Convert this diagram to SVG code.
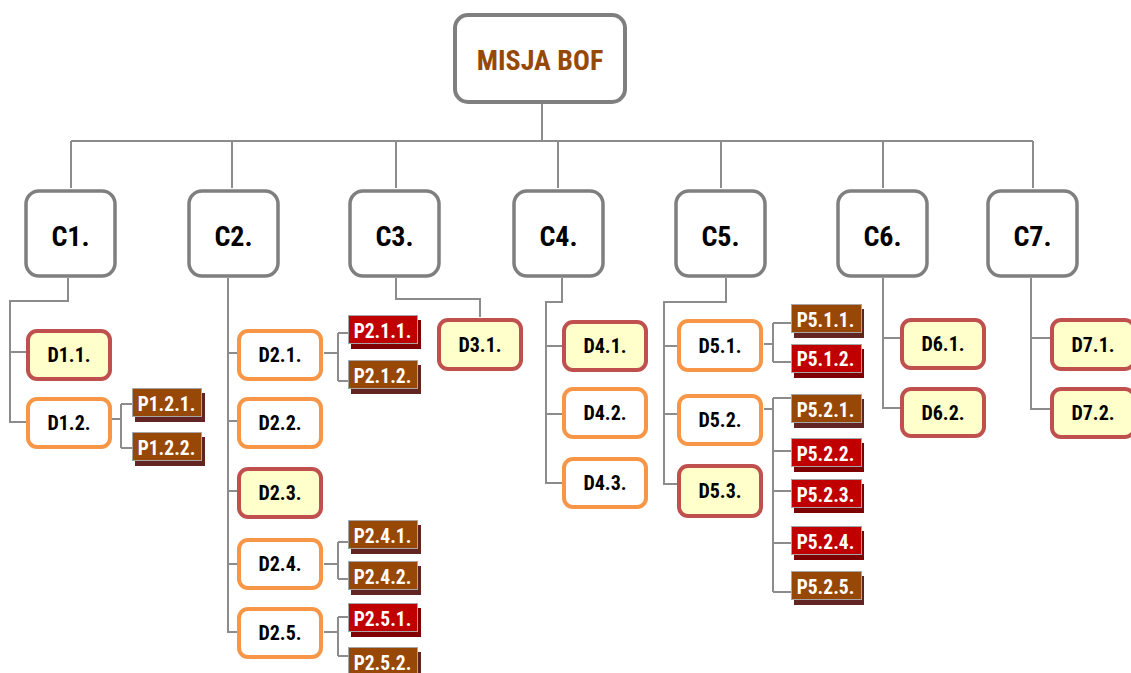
<svg xmlns="http://www.w3.org/2000/svg" width="1131" height="673" viewBox="0 0 1131 673">
<style>
text{font-family:"Roboto Condensed",Roboto,"Liberation Sans",sans-serif;font-weight:700;text-anchor:middle}
.root{fill:#fff;stroke:#7F7F7F;stroke-width:4}
.rt{fill:#974806;font-size:28px}
.c{fill:#fff;stroke:#7F7F7F;stroke-width:3.5}
.ct{fill:#000;font-size:28px}
.dr{fill:#FFFFCC;stroke:#C0504D;stroke-width:4}
.do{fill:#fff;stroke:#F79646;stroke-width:4}
.dt{fill:#000;font-size:20px}
.pb{fill:#974806;stroke:#A6A6A6;stroke-width:1}
.pbs{fill:#632523}
.pr{fill:#C00000;stroke:#A6A6A6;stroke-width:1}
.prs{fill:#7F0000}
.pt{fill:#fff;font-size:19.5px}
.con path{fill:none;stroke:#8C8C8C;stroke-width:2}
</style>
<g id="connectors" class="con">
<path d="M542 104V141M71 141H1033M71 141V188M232 141V188M396 141V188M558 141V188M721 141V188M883 141V188M1033 141V188"/>
<path d="M68 278V301H10V422H27M10 352H27"/>
<path d="M228 278V632H239M228 353H239M228 421H239M228 491H239M228 564H239"/>
<path d="M396 278V299H480V317"/>
<path d="M562 278V302H546V483H563M546 346H563M546 414H563"/>
<path d="M726 278V302H664V484H677M664 346H677M664 414H677"/>
<path d="M883 278V408H900M883 338H900"/>
<path d="M1031 278V409H1050M1031 338H1050"/>
<path d="M112 419H121M121 404V448M121 404H132M121 448H132"/>
<path d="M324 353H338M338 333V381M338 333H348M338 381H348"/>
<path d="M324 564H338M338 542V579M338 542H348M338 579H348"/>
<path d="M324 632H338M338 617V656M338 617H348M338 656H348"/>
<path d="M764 344H773M773 323V362M773 323H791M773 362H791"/>
<path d="M764 409H773M773 398V592M773 398H791M773 451H791M773 491H791M773 543H791M773 592H791"/>
</g>
<g id="root"><rect class="root" x="455" y="15" width="170" height="87" rx="13"/><text class="rt" x="540" y="70">MISJA BOF</text></g>
<g id="C1"><rect class="c" x="26" y="191" width="89" height="85" rx="13"/><text class="ct" x="70.5" y="246">C1.</text></g>
<g id="C2"><rect class="c" x="189" y="191" width="89" height="85" rx="13"/><text class="ct" x="233.5" y="246">C2.</text></g>
<g id="C3"><rect class="c" x="350" y="191" width="89" height="85" rx="13"/><text class="ct" x="394.5" y="246">C3.</text></g>
<g id="C4"><rect class="c" x="514" y="191" width="89" height="85" rx="13"/><text class="ct" x="558.5" y="246">C4.</text></g>
<g id="C5"><rect class="c" x="676" y="191" width="89" height="85" rx="13"/><text class="ct" x="720.5" y="246">C5.</text></g>
<g id="C6"><rect class="c" x="838" y="191" width="89" height="85" rx="13"/><text class="ct" x="882.5" y="246">C6.</text></g>
<g id="C7"><rect class="c" x="988" y="191" width="89" height="85" rx="13"/><text class="ct" x="1032.5" y="246">C7.</text></g>
<g id="D1.1"><rect class="dr" x="28" y="331" width="82" height="48" rx="9"/><text class="dt" x="69" y="362">D1.1.</text></g>
<g id="D1.2"><rect class="do" x="28" y="399" width="82" height="48" rx="9"/><text class="dt" x="69" y="430">D1.2.</text></g>
<g id="D2.1"><rect class="do" x="239" y="331" width="82" height="48" rx="9"/><text class="dt" x="280" y="362">D2.1.</text></g>
<g id="D2.2"><rect class="do" x="239" y="399" width="82" height="48" rx="9"/><text class="dt" x="280" y="430">D2.2.</text></g>
<g id="D2.3"><rect class="dr" x="239" y="469" width="82" height="48" rx="9"/><text class="dt" x="280" y="500">D2.3.</text></g>
<g id="D2.4"><rect class="do" x="239" y="540" width="82" height="48" rx="9"/><text class="dt" x="280" y="571">D2.4.</text></g>
<g id="D2.5"><rect class="do" x="239" y="609" width="82" height="48" rx="9"/><text class="dt" x="280" y="640">D2.5.</text></g>
<g id="D3.1"><rect class="dr" x="439" y="320" width="82" height="49" rx="9"/><text class="dt" x="480" y="352">D3.1.</text></g>
<g id="D4.1"><rect class="dr" x="564" y="322" width="82" height="48" rx="9"/><text class="dt" x="605" y="353">D4.1.</text></g>
<g id="D4.2"><rect class="do" x="564" y="389" width="82" height="48" rx="9"/><text class="dt" x="605" y="420">D4.2.</text></g>
<g id="D4.3"><rect class="do" x="564" y="459" width="82" height="48" rx="9"/><text class="dt" x="605" y="490">D4.3.</text></g>
<g id="D5.1"><rect class="do" x="679" y="321" width="82" height="49" rx="9"/><text class="dt" x="720" y="353">D5.1.</text></g>
<g id="D5.2"><rect class="do" x="679" y="396" width="82" height="48" rx="9"/><text class="dt" x="720" y="427">D5.2.</text></g>
<g id="D5.3"><rect class="dr" x="679" y="466" width="82" height="50" rx="9"/><text class="dt" x="720" y="498">D5.3.</text></g>
<g id="D6.1"><rect class="dr" x="902" y="320" width="82" height="48" rx="9"/><text class="dt" x="943" y="351">D6.1.</text></g>
<g id="D6.2"><rect class="dr" x="902" y="389" width="82" height="47" rx="9"/><text class="dt" x="943" y="420">D6.2.</text></g>
<g id="D7.1"><rect class="dr" x="1052" y="320" width="82" height="49" rx="9"/><text class="dt" x="1093" y="352">D7.1.</text></g>
<g id="D7.2"><rect class="dr" x="1052" y="389" width="82" height="48" rx="9"/><text class="dt" x="1093" y="420">D7.2.</text></g>
<g id="P1.2.1"><rect class="pbs" x="135" y="393" width="70" height="29"/><rect class="pb" x="132.5" y="388.5" width="69" height="28"/><text class="pt" x="166.5" y="411">P1.2.1.</text></g>
<g id="P1.2.2"><rect class="pbs" x="135" y="437" width="70" height="29"/><rect class="pb" x="132.5" y="432.5" width="69" height="28"/><text class="pt" x="166.5" y="455">P1.2.2.</text></g>
<g id="P2.1.1"><rect class="prs" x="351" y="320" width="70" height="29"/><rect class="pr" x="348.5" y="315.5" width="69" height="28"/><text class="pt" x="382.5" y="338">P2.1.1.</text></g>
<g id="P2.1.2"><rect class="pbs" x="351" y="365" width="70" height="29"/><rect class="pb" x="348.5" y="360.5" width="69" height="28"/><text class="pt" x="382.5" y="383">P2.1.2.</text></g>
<g id="P2.4.1"><rect class="pbs" x="351" y="525" width="70" height="29"/><rect class="pb" x="348.5" y="520.5" width="69" height="28"/><text class="pt" x="382.5" y="543">P2.4.1.</text></g>
<g id="P2.4.2"><rect class="pbs" x="351" y="566" width="70" height="29"/><rect class="pb" x="348.5" y="561.5" width="69" height="28"/><text class="pt" x="382.5" y="584">P2.4.2.</text></g>
<g id="P2.5.1"><rect class="prs" x="351" y="608" width="70" height="29"/><rect class="pr" x="348.5" y="603.5" width="69" height="28"/><text class="pt" x="382.5" y="626">P2.5.1.</text></g>
<g id="P2.5.2"><rect class="pbs" x="351" y="652" width="70" height="29"/><rect class="pb" x="348.5" y="647.5" width="69" height="28"/><text class="pt" x="382.5" y="670">P2.5.2.</text></g>
<g id="P5.1.1"><rect class="pbs" x="794" y="309" width="70" height="29"/><rect class="pb" x="791.5" y="304.5" width="70" height="28"/><text class="pt" x="825.5" y="327">P5.1.1.</text></g>
<g id="P5.1.2"><rect class="prs" x="794" y="349" width="70" height="29"/><rect class="pr" x="791.5" y="344.5" width="70" height="28"/><text class="pt" x="825.5" y="366">P5.1.2.</text></g>
<g id="P5.2.1"><rect class="pbs" x="794" y="399" width="70" height="29"/><rect class="pb" x="791.5" y="394.5" width="70" height="28"/><text class="pt" x="825.5" y="417">P5.2.1.</text></g>
<g id="P5.2.2"><rect class="prs" x="794" y="443" width="70" height="29"/><rect class="pr" x="791.5" y="438.5" width="70" height="28"/><text class="pt" x="825.5" y="461">P5.2.2.</text></g>
<g id="P5.2.3"><rect class="prs" x="794" y="484" width="70" height="29"/><rect class="pr" x="791.5" y="479.5" width="70" height="28"/><text class="pt" x="825.5" y="502">P5.2.3.</text></g>
<g id="P5.2.4"><rect class="prs" x="794" y="531" width="70" height="29"/><rect class="pr" x="791.5" y="526.5" width="70" height="28"/><text class="pt" x="825.5" y="549">P5.2.4.</text></g>
<g id="P5.2.5"><rect class="pbs" x="794" y="576" width="70" height="29"/><rect class="pb" x="791.5" y="571.5" width="70" height="28"/><text class="pt" x="825.5" y="594">P5.2.5.</text></g>
</svg>
